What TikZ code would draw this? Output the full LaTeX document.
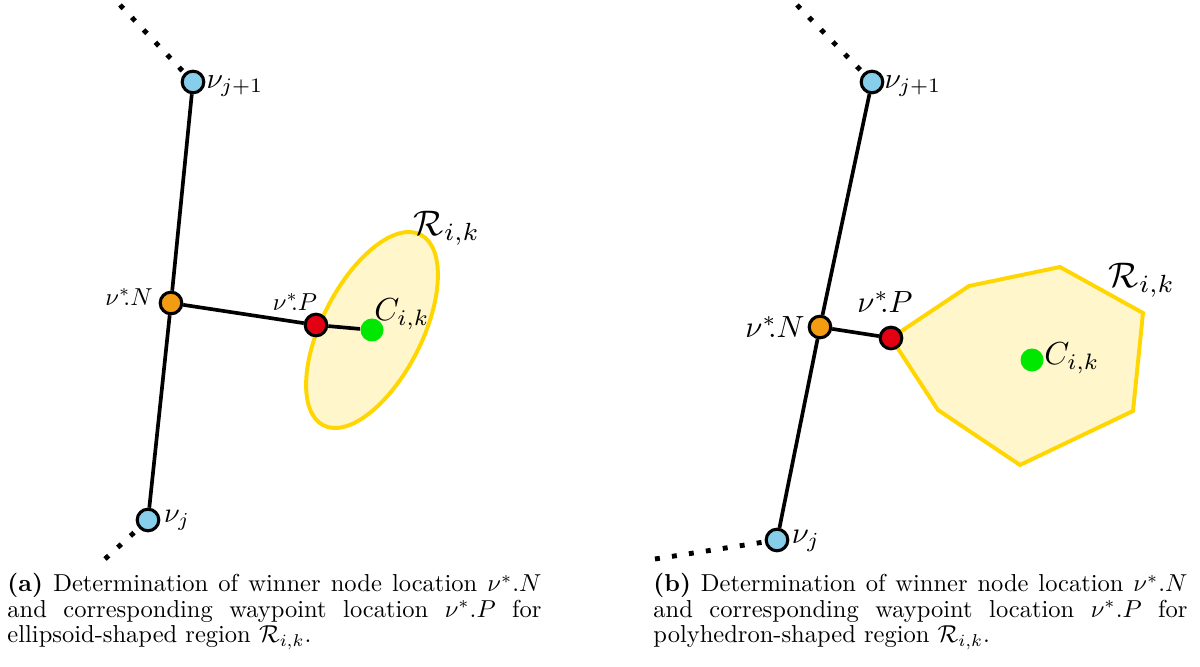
\documentclass[tikz,border=0pt]{standalone}
\usepackage{amsmath, amssymb}
\usepackage{tikz}
\usetikzlibrary{positioning}
\definecolor{wpblue}{RGB}{135,206,235}
\definecolor{winorange}{RGB}{243,156,18}
\definecolor{wpred}{RGB}{226,0,18}
\definecolor{ctrgreen}{RGB}{0,232,0}
\definecolor{regionline}{RGB}{255,214,0}
\definecolor{regionfill}{RGB}{255,246,204}
\begin{document}
\begin{tikzpicture}[x=0.01435cm, y=-0.01435cm,
    wp/.style={circle, draw, line width=1.25pt, fill=#1, minimum size=0.31cm, inner sep=0pt},
    ctr/.style={circle, fill=ctrgreen, minimum size=0.33cm, inner sep=0pt},
    link/.style={line width=1.5pt},
    trail/.style={line width=2pt, dash pattern=on 2pt off 5pt},
    region/.style={draw=regionline, fill=regionfill, line width=1.6pt},
    lbl/.style={inner sep=0pt, scale=#1},
    capt/.style={text width=7.66cm, align=justify, inner sep=0pt, anchor=base west, font=\fontsize{10}{10.3}\selectfont}]
    \useasboundingbox (0,0) rectangle (1200,667);
    \draw[region] (372,330) ellipse [x radius=107, y radius=50, rotate=63];
    \draw[region] (891,338) -- (969,286) -- (1060,267) -- (1143,313) -- (1133,411) -- (1020,465) -- (938,410) -- cycle;
    \node[wp=wpblue] (nja1) at (193,82) {};
    \node[wp=winorange] (nNa) at (171,303) {};
    \node[wp=wpblue] (nja) at (148,520) {};
    \node[wp=wpred] (nPa) at (316,325) {};
    \node[ctr] (Ca) at (372,330) {};
    \coordinate (enda1) at (120,5);
    \coordinate (enda) at (105,559);
    \draw[link] (nja1) -- (nNa) -- (nja);
    \draw[link] (nNa) -- (nPa) -- (Ca);
    \draw[trail] (enda1) -- (nja1);
    \draw[trail] (enda) -- (nja);
    \node[lbl=1.2] (lja1) at (235,86) {$\nu_{j+1}$};
    \node[lbl=1.15] (lja) at (177,520) {$\nu_j$};
    \node[lbl=1] (lNa) at (129,297) {$\nu^{*}\mkern-5mu.N$};
    \node[lbl=1] (lPa) at (295,302) {$\nu^{*}\mkern-5mu.P$};
    \node[lbl=1.3] (lCa) at (402,314) {$C_{i,k}$};
    \node[lbl=1.45] (lRa) at (447,228) {$\mathcal{R}_{i,k}$};
    \node[wp=wpblue] (njb1) at (872,82) {};
    \node[wp=winorange] (nNb) at (820,327) {};
    \node[wp=wpblue] (njb) at (777,540) {};
    \node[wp=wpred] (nPb) at (891,338) {};
    \node[ctr] (Cb) at (1032,360) {};
    \coordinate (endb1) at (797,5);
    \coordinate (endb) at (655,559);
    \draw[link] (njb1) -- (nNb) -- (njb);
    \draw[link] (nNb) -- (nPb);
    \draw[trail] (endb1) -- (njb1);
    \draw[trail] (endb) -- (njb);
    \node[lbl=1.2] (ljb1) at (913,86) {$\nu_{j+1}$};
    \node[lbl=1.25] (ljb) at (806,541) {$\nu_j$};
    \node[lbl=1.25] (lNb) at (775,327) {$\nu^{*}\mkern-5mu.N$};
    \node[lbl=1.25] (lPb) at (885,302) {$\nu^{*}\mkern-5mu.P$};
    \node[lbl=1.3] (lCb) at (1072,358) {$C_{i,k}$};
    \node[lbl=1.45] (lRb) at (1142,280) {$\mathcal{R}_{i,k}$};
    \node[capt] (capa) at (7,592) {\textbf{(a)} Determination of winner node location $\nu^*.N$ and corresponding waypoint location $\nu^*.P$ for ellipsoid-shaped region $\mathcal{R}_{i,k}$.};
    \node[capt] (capb) at (653,592) {\textbf{(b)} Determination of winner node location $\nu^*.N$ and corresponding waypoint location $\nu^*.P$ for polyhedron-shaped region $\mathcal{R}_{i,k}$.};
\end{tikzpicture}
\end{document}
